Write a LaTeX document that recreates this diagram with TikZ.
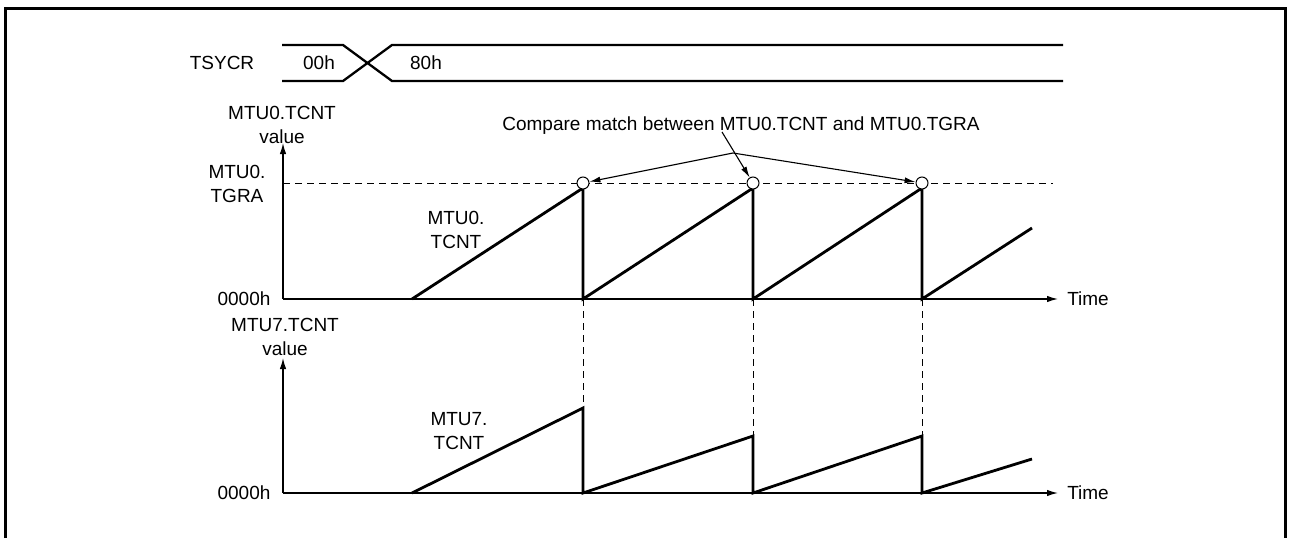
\documentclass[tikz,border=0pt]{standalone}
\usepackage{fontspec}
\setmainfont{Liberation Sans}
\usetikzlibrary{arrows.meta}
\begin{document}
\begin{tikzpicture}[x=1pt,y=-1pt,
  lbl/.style={inner sep=0pt,font=\fontsize{19}{24}\selectfont,align=center},
  axis/.style={line width=1.4pt},
  axarrow/.style={axis,-{Latex[length=11pt,width=6.5pt]}},
  ramp/.style={line width=2.8pt,line join=miter},
  guide/.style={line width=1pt,dash pattern=on 7pt off 5pt},
  bus/.style={line width=2.3pt},
  pointer/.style={line width=1.1pt,-{Latex[length=11pt,width=6pt]}},
  match/.style={circle,draw,line width=1pt,fill=white,minimum size=12pt,inner sep=0pt}]
\useasboundingbox (0,0) rectangle (1289,538);
% frame
\draw[line width=3pt] (5.5,538) -- (5.5,8.5) -- (1285.5,8.5) -- (1285.5,538);

% TSYCR bus
\node[lbl] (tsycr) at (222,63) {TSYCR};
\coordinate (b1t) at (282,45); \coordinate (b1b) at (282,81);
\coordinate (x1t) at (343,45); \coordinate (x1b) at (343,81);
\coordinate (x2t) at (392,45); \coordinate (x2b) at (392,81);
\coordinate (b2t) at (1063,45); \coordinate (b2b) at (1063,81);
\draw[bus] (b1t) -- (x1t) -- (x2b) -- (b2b);
\draw[bus] (b1b) -- (x1b) -- (x2t) -- (b2t);
\node[lbl] (v00) at (319,63) {00h};
\node[lbl] (v80) at (426,63) {80h};

% upper graph axes
\coordinate (o1) at (283,299);
\coordinate (y1) at (283,143);
\coordinate (t1) at (1058,299);
\draw[axarrow] (o1) -- (y1);
\draw[axarrow] (o1) -- (t1);
\node[lbl] (ylab1) at (282,125) {MTU0.TCNT\\value};
\node[lbl] (zero1) at (244,299) {0000h};
\node[lbl] (tgra) at (237,184) {MTU0.\\TGRA};
\node[lbl] (time1) at (1088,299) {Time};
\node[lbl] (tcnt0) at (456,230) {MTU0.\\TCNT};

% TGRA dashed level
\coordinate (g0) at (283,183);
\coordinate (g1) at (1053,183);
\draw[guide] (g0) -- (g1);

% upper ramps
\coordinate (s1) at (412,299);
\coordinate (p1) at (583,188); \coordinate (q1) at (583,299);
\coordinate (p2) at (753,188); \coordinate (q2) at (753,299);
\coordinate (p3) at (922,188); \coordinate (q3) at (922,299);
\coordinate (e1) at (1032,228);
\draw[ramp] (s1) -- (p1) -- (q1) -- (p2) -- (q2) -- (p3) -- (q3) -- (e1);

% compare-match circles
\node[match] (c1) at (583,183) {};
\node[match] (c2) at (753,183) {};
\node[match] (c3) at (922,183) {};

% compare match label and pointers
\node[lbl] (cm) at (741,126) {Compare match between MTU0.TCNT and MTU0.TGRA};
\coordinate (fork) at (733,153);
\coordinate (stem) at (722,132);
\draw[pointer] (fork) -- (c1);
\draw[pointer] (fork) -- (c3);
\draw[pointer] (stem) -- (c2);

% lower graph axes
\coordinate (o2) at (283,493);
\coordinate (y2) at (283,358);
\coordinate (t2) at (1058,493);
\draw[axarrow] (o2) -- (y2);
\draw[axarrow] (o2) -- (t2);
\node[lbl] (ylab2) at (285,337) {MTU7.TCNT\\value};
\node[lbl] (zero2) at (244,493) {0000h};
\node[lbl] (time2) at (1088,493) {Time};
\node[lbl] (tcnt7) at (459,431) {MTU7.\\TCNT};

% lower ramps
\coordinate (ls1) at (412,493);
\coordinate (lp1) at (583,408); \coordinate (lq1) at (583,493);
\coordinate (lp2) at (753,436); \coordinate (lq2) at (753,493);
\coordinate (lp3) at (922,436); \coordinate (lq3) at (922,493);
\coordinate (le1) at (1032,459);
\draw[ramp] (ls1) -- (lp1) -- (lq1) -- (lp2) -- (lq2) -- (lp3) -- (lq3) -- (le1);

% vertical guides
\draw[guide] (q1) -- (lp1);
\draw[guide] (q2) -- (lp2);
\draw[guide] (q3) -- (lp3);
\end{tikzpicture}
\end{document}
